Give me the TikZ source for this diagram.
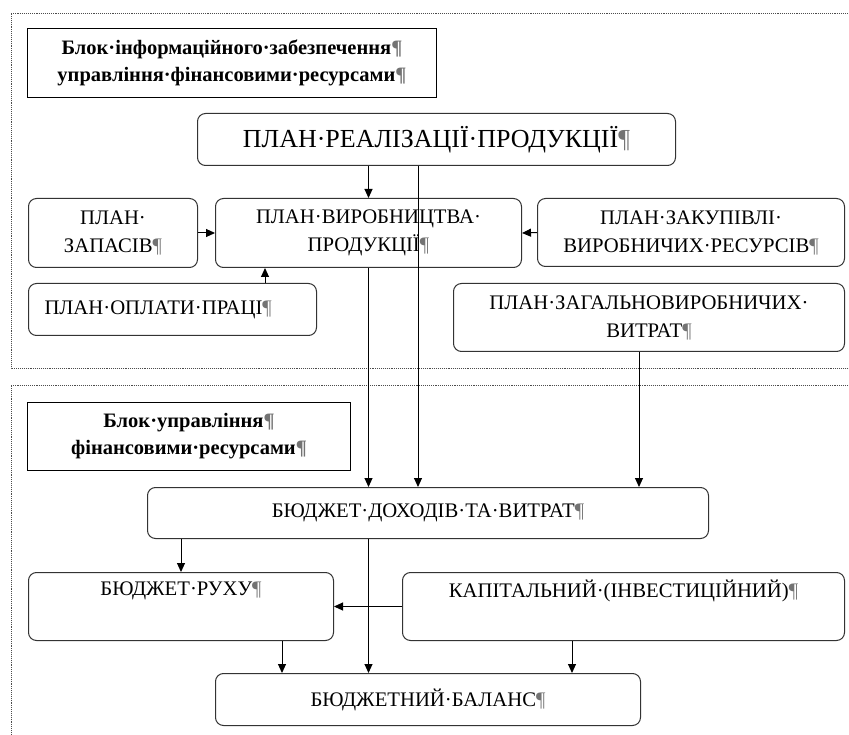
\documentclass[tikz,border=0pt]{standalone}
\usepackage{fontspec}
\setmainfont{Liberation Serif}
\usetikzlibrary{arrows.meta}
\newcommand{\kinec}{{\color{black!55}¶}}

\begin{document}
\begin{tikzpicture}[x=1pt,y=-1pt,
    plan/.style={draw=black!80, line width=1pt, rounded corners=8pt, anchor=north west,
      inner sep=0pt, align=center, font=\fontsize{20.7}{28}\selectfont},
    blok/.style={draw, line width=1pt, anchor=north west, inner sep=0pt, align=center,
      font=\bfseries\fontsize{20.5}{27}\selectfont},
    arr/.style={-{Triangle[length=9pt,width=8pt]}, line width=1pt},
    ramka/.style={densely dotted, line width=0.9pt, black!70}]
    \useasboundingbox (0,0) rectangle (849,735);
    \clip (0,0) rectangle (849,735);
        % dotted frames of the two blocks
        \draw[ramka] (880,13) -- (11,13) -- (11,368) -- (880,368);
        \draw[ramka] (880,385) -- (11,385) -- (11,760);
        % block titles
        \node[blok, minimum width=409, minimum height=69] (blokinf) at (27,28)
            {Блок·інформаційного·забезпечення\kinec\\управління·фінансовими·ресурсами\kinec};
        \node[blok, minimum width=323, minimum height=68] (blokupr) at (27,402)
            {Блок·управління\kinec\\фінансовими·ресурсами\kinec};
        % plans
        \node[plan, minimum width=478, minimum height=52, font=\fontsize{26}{30}\selectfont] (prp) at (197,113)
            {ПЛАН·РЕАЛІЗАЦІЇ·ПРОДУКЦІЇ\kinec};
        \node[plan, minimum width=306, minimum height=69] (pvp) at (215,198)
            {ПЛАН·ВИРОБНИЦТВА·\\ПРОДУКЦІЇ\kinec};
        \node[plan, minimum width=169, minimum height=69] (pz) at (28,198)
            {ПЛАН·\\ЗАПАСІВ\kinec};
        \node[plan, minimum width=288, minimum height=52, align=left, inner xsep=16pt, text width=256] (pop) at (28,283)
            {ПЛАН·ОПЛАТИ·ПРАЦІ\kinec};
        \node[plan, minimum width=307, minimum height=68] (pzak) at (537,198)
            {ПЛАН·ЗАКУПІВЛІ·\\ВИРОБНИЧИХ·РЕСУРСІВ\kinec};
        \node[plan, minimum width=391, minimum height=68] (zv) at (453,283)
            {ПЛАН·ЗАГАЛЬНОВИРОБНИЧИХ·\\ВИТРАТ\kinec};
        % budgets
        \node[plan, minimum width=561, minimum height=51] (bdv) at (147,487)
            {БЮДЖЕТ·ДОХОДІВ·ТА·ВИТРАТ\kinec};
        \node[plan, minimum width=305, minimum height=68] (br) at (28,572)
            {БЮДЖЕТ·РУХУ\kinec\\ \strut};
        \node[plan, minimum width=442, minimum height=68] (kap) at (402,572)
            {КАПІТАЛЬНИЙ·(ІНВЕСТИЦІЙНИЙ)\kinec\\ \strut};
        \node[plan, minimum width=425, minimum height=52] (bb) at (215,673)
            {БЮДЖЕТНИЙ·БАЛАНС\kinec};
        % x positions of the off-centre connectors
        \coordinate (xa) at (418,0);
        \coordinate (xb) at (639,0);
        \coordinate (xc) at (265,0);
        \coordinate (xd) at (282,0);
        \coordinate (xe) at (572,0);
        % connectors
        \draw[arr] (prp.south -| pvp) -- (pvp.north);
        \draw[arr] (prp.south -| xa) -- (bdv.north -| xa);
        \draw[arr] (pz.east) -- (pvp.west);
        \draw[arr] (pop.north -| xc) -- (pvp.south -| xc);
        \draw[arr] (pzak.west) -- (pvp.east);
        \draw[arr] (pvp.south) -- (bdv.north -| pvp);
        \draw[arr] (zv.south -| xb) -- (bdv.north -| xb);
        \draw[arr] (bdv.south -| br) -- (br.north);
        \draw[arr] (bdv.south -| pvp) -- (bb.north -| pvp);
        \draw[arr] (kap.west) -- (br.east);
        \draw[arr] (br.south -| xd) -- (bb.north -| xd);
        \draw[arr] (kap.south -| xe) -- (bb.north -| xe);
\end{tikzpicture}
\end{document}
